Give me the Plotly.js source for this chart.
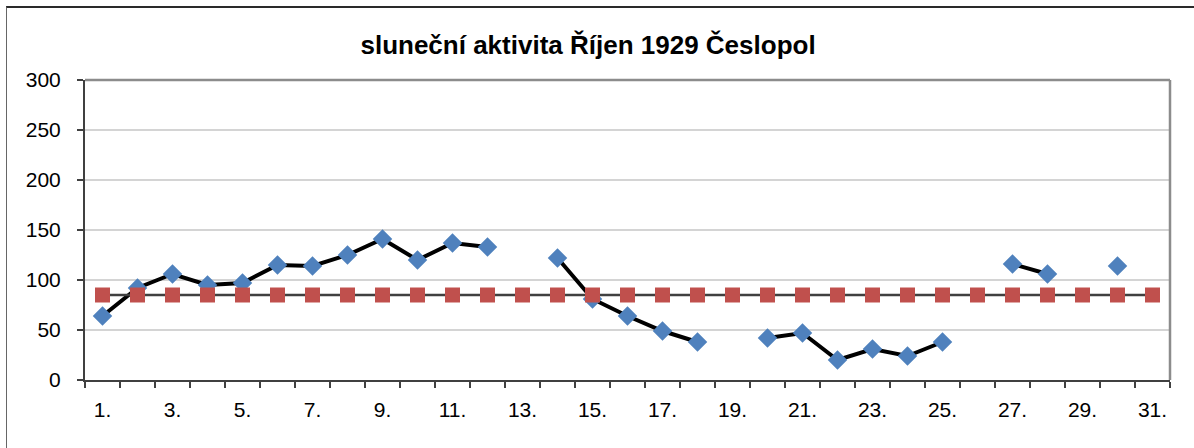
<!DOCTYPE html>
<html>
<head>
<meta charset="utf-8">
<script src="https://cdn.plot.ly/plotly-3.0.1.min.js"></script>
<style>
  html, body { margin: 0; padding: 0; background: #fff; overflow: hidden; }
  #wrap { position: relative; width: 1194px; height: 448px; }
  #chart { position: absolute; left: 0; top: 0; width: 1194px; height: 448px; }
  #frame { position: absolute; left: 6px; top: 6px; width: 1300px; height: 600px;
           border-top: 2px solid #2a2a2a; border-left: 1px solid #666; pointer-events: none; }
</style>
</head>
<body>
<div id="wrap">
  <div id="chart"></div>
  <div id="frame"></div>
</div>
<script>
const days = [1,2,3,4,5,6,7,8,9,10,11,12,13,14,15,16,17,18,19,20,21,22,23,24,25,26,27,28,29,30,31];
const activity = [64,92,106,95,97,115,114,125,141,120,137,133,null,122,81,64,49,38,null,42,47,20,31,24,38,null,116,106,null,114,null];
const average = [85,85,85,85,85,85,85,85,85,85,85,85,85,85,85,85,85,85,85,85,85,85,85,85,85,85,85,85,85,85,85];
const tickDays = [1,3,5,7,9,11,13,15,17,19,21,23,25,27,29,31];
const tickLabels = tickDays.map(d => d + '.');
const yTicks = [0,50,100,150,200,250,300];

const font = 'Liberation Sans, Arial, sans-serif';

const traces = [
  {
    x: days, y: activity, type: 'scatter', mode: 'lines+markers',
    connectgaps: false,
    line: { color: '#000000', width: 4 },
    marker: { symbol: 'diamond', size: 15, color: '#4F81BD' },
    showlegend: false, hoverinfo: 'x+y'
  },
  {
    x: days, y: average, type: 'scatter', mode: 'lines+markers',
    line: { color: '#404040', width: 2.5 },
    marker: { symbol: 'square', size: 15, color: '#C0504D' },
    showlegend: false, hoverinfo: 'x+y'
  }
];

const layout = {
  width: 1194, height: 448,
  margin: { l: 85, r: 24, t: 80, b: 68 },
  paper_bgcolor: 'rgba(0,0,0,0)',
  plot_bgcolor: '#ffffff',
  font: { family: font, size: 21, color: '#000' },
  title: {
    text: 'sluneční aktivita Říjen 1929 Česlopol',
    font: { family: font, size: 26, color: '#000', weight: 'bold' },
    xref: 'container', yref: 'container', x: 0.4925, y: 0.9,
    xanchor: 'center', yanchor: 'middle'
  },
  xaxis: {
    type: 'linear', range: [0.5, 31.5],
    tickmode: 'array', tickvals: tickDays, ticktext: tickLabels,
    ticks: '', ticklabelstandoff: 10,
    showgrid: false, zeroline: false,
    showline: true, linecolor: '#404040', linewidth: 2,
    minor: { tick0: 0.5, dtick: 1, ticks: 'outside', ticklen: 6, tickwidth: 1.5, tickcolor: '#404040', showgrid: false },
    tickfont: { family: font, size: 21, color: '#000' }
  },
  yaxis: {
    range: [0, 300], tickmode: 'array', tickvals: yTicks,
    ticks: 'outside', ticklen: 6, tickwidth: 1.5, tickcolor: '#404040',
    ticklabelstandoff: 12,
    showgrid: true, gridcolor: '#d4d4d4', gridwidth: 1.5,
    zeroline: false,
    showline: true, linecolor: '#404040', linewidth: 2,
    tickfont: { family: font, size: 21, color: '#000' }
  },
  shapes: [
    { type: 'line', xref: 'paper', yref: 'paper', x0: 0, x1: 1, y0: 1, y1: 1, line: { color: '#8c8c8c', width: 2.5 }, layer: 'above' },
    { type: 'line', xref: 'paper', yref: 'paper', x0: 1, x1: 1, y0: 0, y1: 1, line: { color: '#8c8c8c', width: 2.5 }, layer: 'above' }
  ]
};

Plotly.newPlot('chart', traces, layout, { displayModeBar: false, staticPlot: true });
</script>
</body>
</html>
